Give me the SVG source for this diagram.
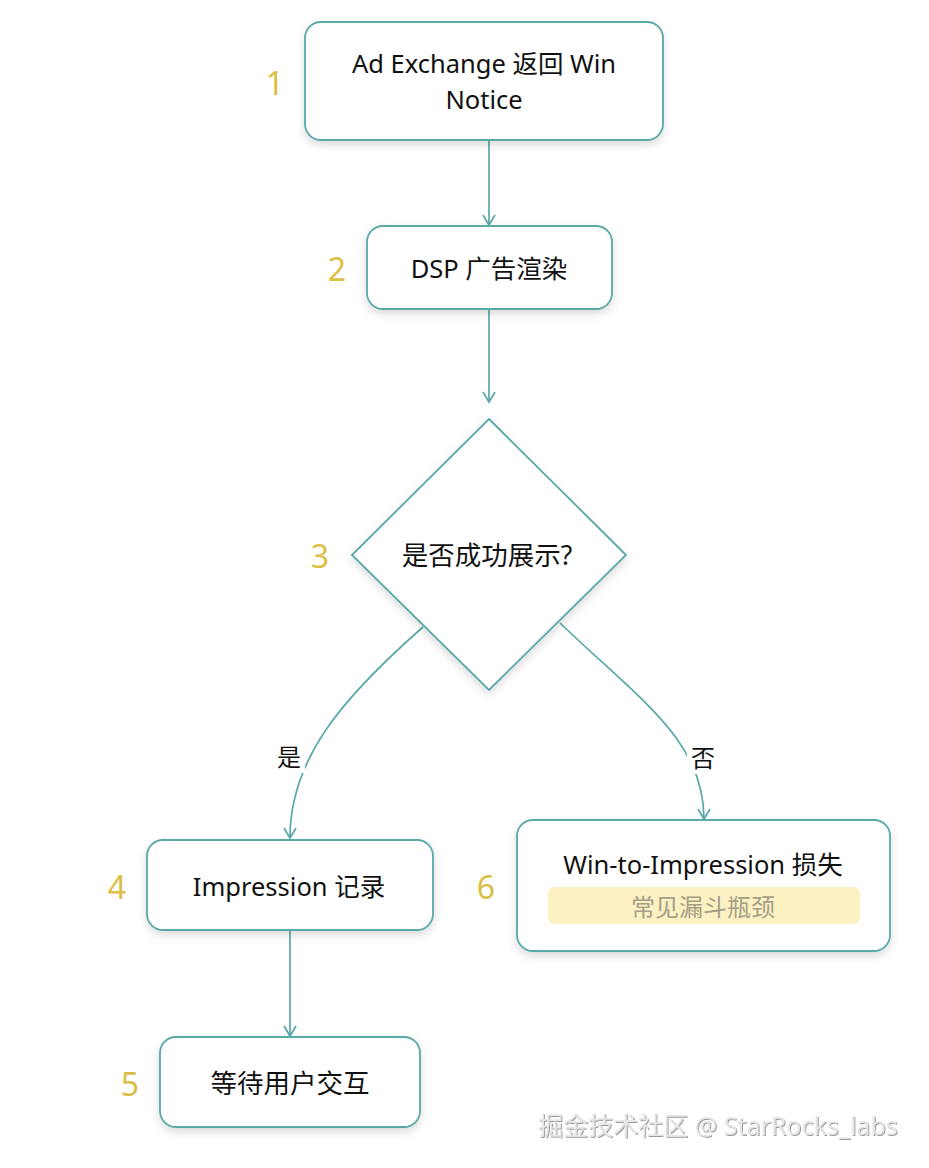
<svg xmlns="http://www.w3.org/2000/svg" width="929" height="1168" viewBox="0 0 929 1168">
<defs>
<filter id="sh" x="-20%" y="-20%" width="140%" height="150%">
<feDropShadow dx="0" dy="4" stdDeviation="4" flood-color="#000" flood-opacity="0.14"/>
</filter>
<filter id="wm" x="-5%" y="-20%" width="110%" height="150%">
<feDropShadow dx="1" dy="1" stdDeviation="0.6" flood-color="#555" flood-opacity="0.6"/>
</filter>
<marker id="ah" markerWidth="14" markerHeight="14" refX="12" refY="7" orient="auto" markerUnits="userSpaceOnUse">
<path d="M2,1 L12,7 L2,13" fill="none" stroke="#5aa8a8" stroke-width="1.7"/>
</marker>
</defs>
<style>
.box{fill:#fff;stroke:#5aa8a8;stroke-width:1.8;filter:url(#sh)}
.t{font-family:"Noto Sans","Noto Sans CJK SC",sans-serif;font-size:25.5px;fill:#111;text-anchor:middle;dominant-baseline:central}
.n{font-family:"Noto Sans","Noto Sans CJK SC",sans-serif;font-size:32px;fill:#dcbe45;text-anchor:middle;dominant-baseline:central}
.c{fill:none;stroke:#5aa8a8;stroke-width:1.7}
.lbl{font-family:"Noto Sans","Noto Sans CJK SC",sans-serif;font-size:24px;fill:#111;text-anchor:middle;dominant-baseline:central}
</style>
<rect width="929" height="1168" fill="#fff"/>
<g id="connectors">
<path class="c" d="M489,140 L489,225" marker-end="url(#ah)"/>
<path class="c" d="M489,309 L489,402" marker-end="url(#ah)"/>
<path class="c" d="M423,627 C340,700 290,760 290,838" marker-end="url(#ah)"/>
<path class="c" d="M560,623 C640,700 704,740 704,819" marker-end="url(#ah)"/>
<path class="c" d="M290,930 L290,1036" marker-end="url(#ah)"/>
<rect x="273" y="739" width="32" height="34" fill="#fff"/>
<text class="lbl" x="289" y="756">是</text>
<rect x="687" y="740" width="32" height="34" fill="#fff"/>
<text class="lbl" x="703" y="757">否</text>
</g>
<g id="node1">
<rect class="box" x="305" y="22" width="358" height="118" rx="16"/>
<text class="t" x="484" y="63">Ad Exchange 返回 Win</text>
<text class="t" x="484" y="99">Notice</text>
<text class="n" x="275" y="82">1</text>
</g>
<g id="node2">
<rect class="box" x="367" y="226" width="245" height="83" rx="16"/>
<text class="t" x="489" y="268">DSP 广告渲染</text>
<text class="n" x="337" y="268">2</text>
</g>
<g id="node3">
<polygon class="box" points="489,419 626,555 489,690 352,555"/>
<text class="t" x="487" y="555" style="font-size:26.5px">是否成功展示?</text>
<text class="n" x="320" y="555">3</text>
</g>
<g id="node4">
<rect class="box" x="147" y="840" width="286" height="90" rx="16"/>
<text class="t" x="289" y="886">Impression 记录</text>
<text class="n" x="117" y="886">4</text>
</g>
<g id="node5">
<rect class="box" x="160" y="1037" width="260" height="90" rx="16"/>
<text class="t" x="290" y="1083" style="font-size:26.5px">等待用户交互</text>
<text class="n" x="130" y="1083">5</text>
</g>
<g id="node6">
<rect class="box" x="517" y="820" width="373" height="131" rx="16"/>
<text class="t" x="703" y="864">Win-to-Impression 损失</text>
<rect x="548" y="887" width="312" height="37" rx="6" fill="#fcf1c3"/>
<text class="t" x="703" y="906" style="fill:#a59f86;font-size:24px">常见漏斗瓶颈</text>
<text class="n" x="486" y="886">6</text>
</g>
<text x="718" y="1125" filter="url(#wm)" style="font-family:'Noto Sans','Noto Sans CJK SC',sans-serif;font-size:25px;fill:#e6e6e6;text-anchor:middle;dominant-baseline:central">掘金技术社区 @ StarRocks_labs</text>
</svg>
